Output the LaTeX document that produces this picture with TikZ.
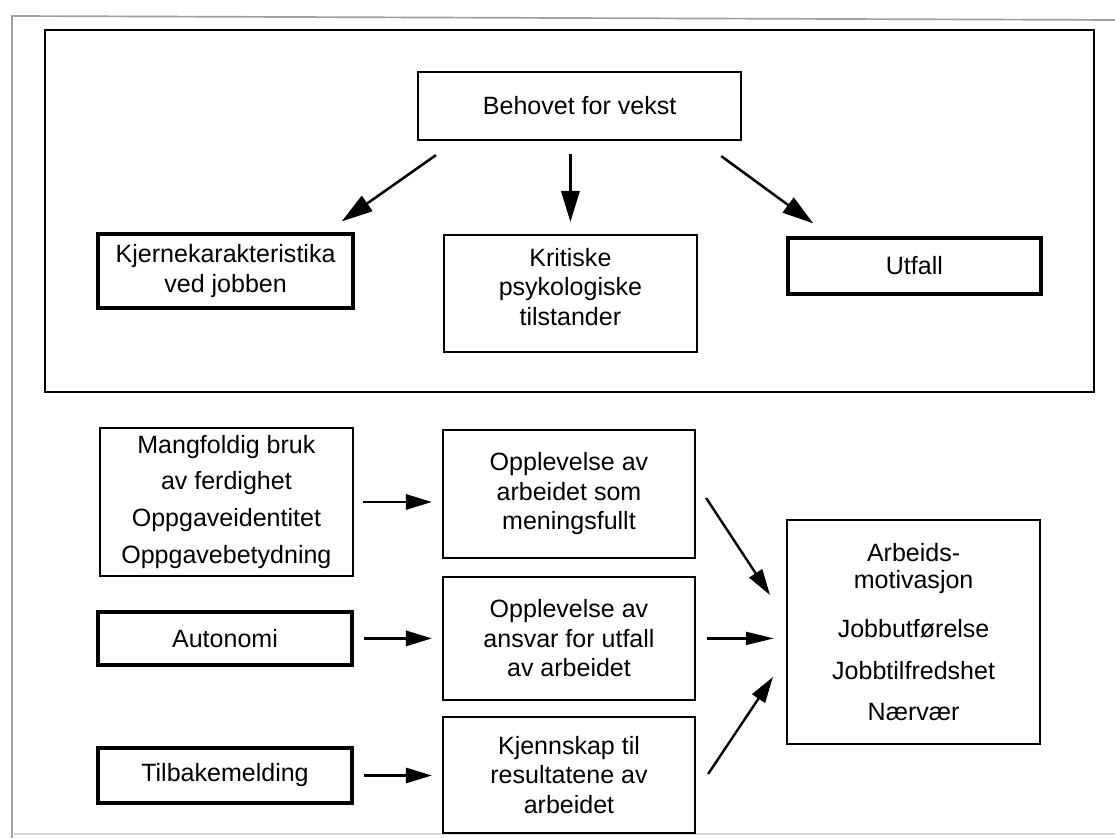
\documentclass[tikz,border=0pt]{standalone}
\usepackage{fontspec}
\setmainfont{Liberation Sans}
\usetikzlibrary{arrows.meta, calc}

\tikzset{
  boks/.style={draw, line width=1.6pt, align=center, inner sep=0pt,
    font=\fontsize{17.8}{21}\selectfont},
  tykkboks/.style={boks, line width=2.3pt},
  pil/.style={line width=1.7pt, -{Triangle[length=0.65cm, width=0.38cm]}},
  storpil/.style={line width=1.8pt, -{Triangle[length=0.78cm, width=0.46cm]}}
}

\begin{document}
\begin{tikzpicture}
        \useasboundingbox (0,0) rectangle (27.875,20.95);
        % Ytre ramme (skannet side)
        \draw[gray!75, line width=1.2pt] (27.875,20.45) -- (0.3,20.55) -- (0.3,0);
        \draw[gray!30, line width=1pt] (0.3,0.1) -- (27.875,0.1);
        % Indre ramme rundt den oeverste delen
        \draw[line width=2pt] (1.125,11.15) rectangle (27.35,20.2);

        % Oeverste del
        \node[boks, minimum width=8.075cm, minimum height=1.7cm] (beh) at (14.49,18.3) {Behovet for vekst};
        \node[tykkboks, minimum width=6.375cm, minimum height=1.85cm] (kje) at (5.64,14.175) {Kjernekarakteristika\\ved jobben};
        \node[boks, minimum width=6.325cm, minimum height=2.925cm] (kri) at (14.26,13.61) {Kritiske\\psykologiske\\tilstander\\[-0.39cm]};
        \node[tykkboks, minimum width=6.325cm, minimum height=1.4cm] (utf) at (22.86,14.3) {Utfall};

        \draw[storpil] ($(beh.south west)+(0.475,-0.35)$) -- ($(kje.north east)+(-0.325,0.275)$);
        \draw[storpil, shorten <=0.325cm, shorten >=0.3cm] (kri.north |- beh.south) -- (kri.north);
        \draw[storpil] ($(beh.south east)+(-0.525,-0.375)$) -- ($(utf.north west)+(0.675,0.325)$);

        % Nederste del: jobbkarakteristika
        \node[boks, minimum width=6.325cm, minimum height=3.7cm, font=\fontsize{17.8}{26.3}\selectfont] (man) at (5.66,8.4) {Mangfoldig bruk\\av ferdighet\\Oppgaveidentitet\\Oppgavebetydning};
        \node[tykkboks, minimum width=6.35cm, minimum height=1.325cm] (aut) at (5.625,4.99) {Autonomi};
        \node[tykkboks, minimum width=6.35cm, minimum height=1.375cm] (til) at (5.625,1.5625) {Tilbakemelding};

        % Psykologiske tilstander
        \node[boks, minimum width=6.3cm, minimum height=3.2cm] (op1) at (14.225,8.6) {Opplevelse av\\arbeidet som\\meningsfullt};
        \node[boks, minimum width=6.3cm, minimum height=3.075cm] (op2) at (14.225,4.99) {Opplevelse av\\ansvar for utfall\\av arbeidet};
        \node[boks, minimum width=6.3cm, minimum height=2.9cm] (op3) at (14.225,1.575) {Kjennskap til\\resultatene av\\arbeidet};

        % Utfall
        \node[boks, minimum width=6.325cm, minimum height=5.6cm, font=\fontsize{17.8}{19.2}\selectfont] (arb) at (22.84,5.15)
          {Arbeids-\\motivasjon\\[0.55cm]Jobbutf\o relse\\[0.375cm]Jobbtilfredshet\\[0.33cm]N\ae rv\ae r};

        % Piler
        \draw[pil, shorten <=0.225cm, shorten >=0.25cm] (man.east) -- (man.east -| op1.west);
        \draw[pil, shorten <=0.25cm, shorten >=0.25cm] (aut.east) -- (aut.east -| op2.west);
        \draw[pil, shorten <=0.25cm, shorten >=0.25cm] (til.east) -- (til.east -| op3.west);

        \draw[pil] ($(op1.east)+(0.25,-0.1)$) -- ($(arb.west)+(-0.4,0.925)$);
        \draw[pil, shorten <=0.275cm, shorten >=0.3cm, -{Triangle[length=0.7cm, width=0.32cm]}] (op2.east) -- (op2.east -| arb.west);
        \draw[pil] ($(op3.east)+(0.3,0.025)$) -- ($(arb.west)+(-0.325,-1.125)$);
\end{tikzpicture}
\end{document}
